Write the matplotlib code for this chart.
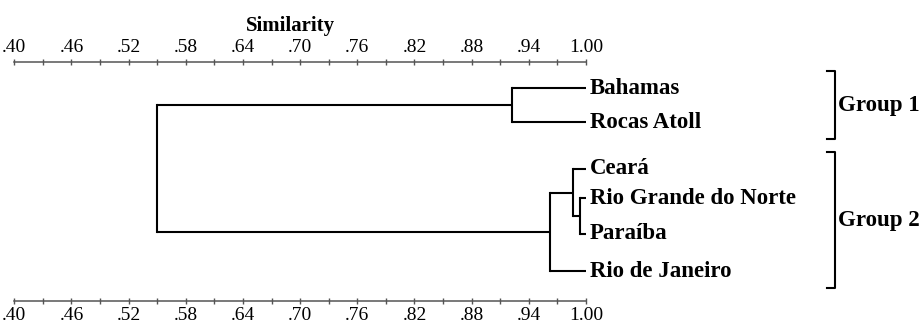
import numpy as np
import matplotlib
matplotlib.use("Agg")
from matplotlib import pyplot as plt

leaves = ["Bahamas", "Rocas Atoll", "Ceará", "Rio Grande do Norte", "Paraíba", "Rio de Janeiro"]
leaf_pos = [0, 1, 2.38, 3.24, 4.29, 5.38]

# merges: (child a, child b, similarity); new ids follow the leaves (6, 7, ...)
merges = [
    (3, 4, 0.994),
    (2, 6, 0.986),
    (7, 5, 0.962),
    (0, 1, 0.922),
    (9, 8, 0.550),
]

groups = ["Group 1", "Group 2"]
group_members = [[0, 1], [2, 3, 4, 5]]

tick_vals = [0.40, 0.46, 0.52, 0.58, 0.64, 0.70, 0.76, 0.82, 0.88, 0.94, 1.00]
tick_labels = [".40", ".46", ".52", ".58", ".64", ".70", ".76", ".82", ".88", ".94", "1.00"]

plt.rcParams["font.family"] = ["Liberation Serif", "DejaVu Serif"]

fig = plt.figure(figsize=(9.2, 3.24), dpi=100)
ax = fig.add_axes([0.01554, 0.071, 0.6214, 0.7377])

node_x = {i: 1.0 for i in range(len(leaves))}
node_y = {i: leaf_pos[i] for i in range(len(leaves))}

lw = 1.5
for k, (a, b, sim) in enumerate(merges):
    nid = len(leaves) + k
    for c in (a, b):
        ax.plot([node_x[c], sim], [node_y[c], node_y[c]], color="black", lw=lw,
                solid_capstyle="butt", clip_on=False)
    ax.plot([sim, sim], [node_y[a], node_y[b]], color="black", lw=lw,
            solid_capstyle="projecting", clip_on=False)
    node_x[nid] = sim
    node_y[nid] = (node_y[a] + node_y[b]) / 2

for i, name in enumerate(leaves):
    ax.text(1.004, leaf_pos[i], name, ha="left", va="center",
            fontsize=16.5, fontweight="bold")

# group brackets to the right
bx = 1.261
for g, members in zip(groups, group_members):
    y0 = leaf_pos[members[0]] - 0.5
    y1 = leaf_pos[members[-1]] + 0.5
    ax.plot([bx - 0.008, bx, bx, bx - 0.008], [y0, y0, y1, y1], color="black",
            lw=lw, clip_on=False)
    ax.text(bx + 0.003, (y0 + y1) / 2, g, ha="left", va="center",
            fontsize=16.5, fontweight="bold")

ax.set_xlim(0.40, 1.00)
ax.set_ylim(6.26, -0.765)

for side in ("left", "right"):
    ax.spines[side].set_visible(False)
for side in ("top", "bottom"):
    ax.spines[side].set_color("#555555")
    ax.spines[side].set_linewidth(1.1)

ax.set_xticks(tick_vals)
ax.set_xticklabels(tick_labels)
minor = [(a + b) / 2 for a, b in zip(tick_vals[:-1], tick_vals[1:])]
ax.set_xticks(minor, minor=True)
ax.set_yticks([])
ax.tick_params(axis="x", which="both", top=True, bottom=True, labeltop=True,
               labelbottom=True, direction="inout", color="#555555", width=1)
ax.tick_params(axis="x", which="major", length=4, labelsize=14, pad=2)
ax.tick_params(axis="x", which="minor", length=4)

ax.text(0.483, 1.108, "Similarity", transform=ax.transAxes, ha="center",
        va="bottom", fontsize=15, fontweight="bold")

fig.savefig("out.png", dpi=100)
